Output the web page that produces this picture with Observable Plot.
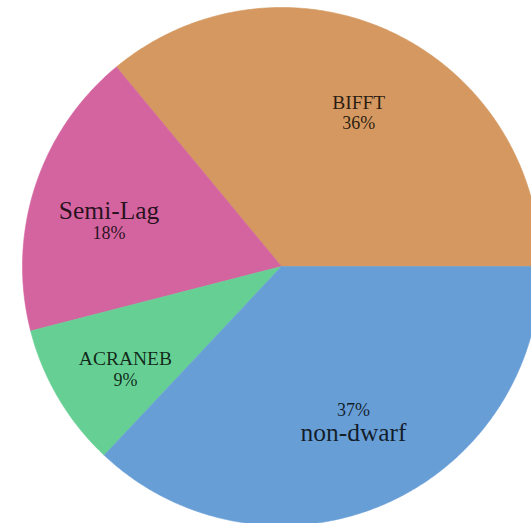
<!DOCTYPE html>
<html>
<head>
<meta charset="utf-8">
<script src="https://cdn.jsdelivr.net/npm/d3@7"></script>
<script src="https://cdn.jsdelivr.net/npm/@observablehq/plot@0.6"></script>
<style>
  html, body { margin: 0; padding: 0; background: #fff; }
  #chart { width: 531px; height: 523px; overflow: hidden; }
</style>
</head>
<body>
<div id="chart"></div>
<script>
// ---- data ----
const categories = ["BIFFT", "Semi-Lag", "ACRANEB", "non-dwarf"];
const shares = [36, 18, 9, 37];
const pctLabels = ["36%", "18%", "9%", "37%"];

// ---- styles (kept apart from the data) ----
const sliceColors = ["#D49860", "#D464A0", "#66D094", "#689ED6"];
const nameFontSize = { "BIFFT": 19.5, "Semi-Lag": 25.5, "ACRANEB": 19.5, "non-dwarf": 25.5 };
const pctAbove = { "non-dwarf": true };
const FONT = "'Liberation Serif', 'DejaVu Serif', serif";
const PCT_SIZE = 18;

// ---- layout ----
const W = 531, H = 523;
const R = 259, CX = 281, CY = 266;
const labelR = 0.70;

// pie angles: start at east, counter-clockwise (math convention)
const total = d3.sum(shares);
let acc = 0;
const slices = categories.map((c, i) => {
  const a0 = acc / total * 2 * Math.PI;
  acc += shares[i];
  const a1 = acc / total * 2 * Math.PI;
  return { name: c, value: shares[i], pct: pctLabels[i], a0, a1, mid: (a0 + a1) / 2 };
});

// outline of each slice as a closed path in unit coordinates
const outline = [];
for (const s of slices) {
  outline.push({ name: s.name, x: 0, y: 0 });
  const n = Math.max(8, Math.ceil((s.a1 - s.a0) / (2 * Math.PI) * 720));
  for (let k = 0; k <= n; k++) {
    const a = s.a0 + (s.a1 - s.a0) * k / n;
    outline.push({ name: s.name, x: Math.cos(a), y: Math.sin(a) });
  }
  outline.push({ name: s.name, x: 0, y: 0 });
}

const labels = slices.map(s => {
  const size = nameFontSize[s.name];
  const gap = Math.max(21, (size + PCT_SIZE) / 2 + 1);
  return {
    name: s.name,
    pct: s.pct,
    x: labelR * Math.cos(s.mid),
    y: labelR * Math.sin(s.mid),
    size,
    pdy: pctAbove[s.name] ? -gap : gap
  };
});

const textStyle = {
  fontFamily: FONT,
  fill: "black", fillOpacity: 0.82,
  textAnchor: "middle", lineAnchor: "middle"
};

const chart = Plot.plot({
  width: W,
  height: H,
  margin: 0,
  x: { domain: [-CX / R, (W - CX) / R], axis: null },
  y: { domain: [-(H - CY) / R, CY / R], axis: null },
  color: { domain: categories, range: sliceColors },
  style: { background: "#fff", overflow: "hidden" },
  marks: [
    Plot.line(outline, {
      x: "x", y: "y", z: "name",
      fill: "name", stroke: "name", strokeWidth: 0.6,
      curve: "linear"
    }),
    Plot.text(labels, {
      x: "x", y: "y", text: "name",
      fontSize: "size",
      ...textStyle
    }),
    ...labels.map(d => Plot.text([d], {
      x: "x", y: "y", text: "pct",
      dy: d.pdy, fontSize: PCT_SIZE,
      ...textStyle
    }))
  ]
});

document.getElementById("chart").appendChild(chart);
</script>
</body>
</html>
